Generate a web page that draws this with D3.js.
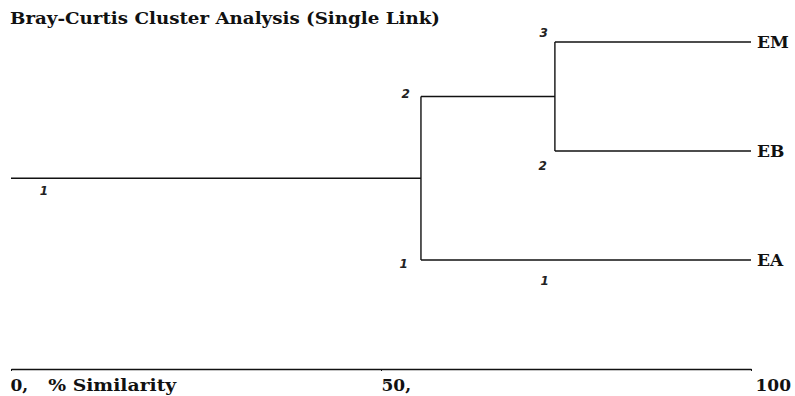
<!DOCTYPE html>
<html>
<head>
<meta charset="utf-8">
<script src="https://cdn.jsdelivr.net/npm/d3@7"></script>
<style>
  html, body { margin: 0; padding: 0; background: #fff; }
  svg { display: block; }
  text.serif, text.serif tspan { font-family: "DejaVu Serif", "Liberation Serif", serif; font-weight: bold; fill: #111; }
  text.count { font-family: "DejaVu Sans", sans-serif; font-weight: bold; font-style: italic; fill: #222; font-size: 12px; }
</style>
</head>
<body>
<svg id="chart" width="795" height="396"></svg>
<script>
// Sites (leaves), top to bottom
const leafNames = ["EM", "EB", "EA"];
// Similarity (%) at which clusters join: EM+EB first, then with EA
const mergeSimilarity = [73.5, 55.4];
// Counts written beside the branches
const branchCounts = ["1", "2", "1", "1", "3", "2"];
// Axis
const axisTicks = [0, 50, 100];
const axisTickLabels = ["0,   % Similarity", "50,", "100"];
const title = "Bray-Curtis Cluster Analysis (Single Link)";

const svg = d3.select("#chart");

const x = d3.scaleLinear().domain([0, 100]).range([11, 751]);
const y = d3.scalePoint().domain(leafNames).range([42, 260]);

// Build the tree from the merge order
const treeData = {
  sim: mergeSimilarity[1],
  children: [
    { sim: mergeSimilarity[0], children: [{ name: leafNames[0], sim: 100 }, { name: leafNames[1], sim: 100 }] },
    { name: leafNames[2], sim: 100 }
  ]
};
const root = d3.hierarchy(treeData);
root.eachAfter(n => {
  n.py = n.children ? d3.mean(n.children, c => c.py) : y(n.data.name);
  n.px = x(n.data.sim);
});

const g = svg.append("g")
  .attr("fill", "none")
  .attr("stroke", "#111")
  .attr("stroke-width", 1.4);

// Root stem from 0 % similarity
g.append("line")
  .attr("x1", x(0)).attr("x2", root.px)
  .attr("y1", root.py).attr("y2", root.py);

// Horizontal branches
root.descendants().filter(n => n.parent).forEach(n => {
  g.append("line")
    .attr("x1", n.parent.px).attr("x2", n.px)
    .attr("y1", n.py).attr("y2", n.py);
});

// Vertical connectors at each join
root.descendants().filter(n => n.children).forEach(n => {
  const ys = n.children.map(c => c.py);
  g.append("line")
    .attr("x1", n.px).attr("x2", n.px)
    .attr("y1", d3.min(ys)).attr("y2", d3.max(ys));
});

// Leaf labels
root.leaves().forEach(n => {
  svg.append("text")
    .attr("class", "serif")
    .attr("x", n.px + 6).attr("y", n.py)
    .attr("dy", "0.36em")
    .style("font-size", "17px")
    .text(n.data.name);
});

// Count annotations placed around the branches
const upper = root.children[0];
const eaNode = root.children[1];
const em = upper.children[0], eb = upper.children[1];
const countPlaces = [
  { ax: x(0) + 37, ay: root.py + 17 },
  { ax: root.px - 11, ay: upper.py + 1 },
  { ax: root.px - 13, ay: eaNode.py + 8 },
  { ax: root.px + 128, ay: eaNode.py + 25 },
  { ax: upper.px - 7, ay: em.py - 5 },
  { ax: upper.px - 8, ay: eb.py + 19 }
];
branchCounts.forEach((t, i) => {
  svg.append("text")
    .attr("class", "count")
    .attr("x", countPlaces[i].ax).attr("y", countPlaces[i].ay)
    .attr("text-anchor", "end")
    .text(t);
});

// Similarity axis
const axis = d3.axisBottom(x)
  .tickValues(axisTicks)
  .tickSize(2)
  .tickSizeOuter(0)
  .tickFormat(() => "");
const ax = svg.append("g").attr("transform", "translate(0,369)").call(axis);
ax.attr("font-family", null).attr("font-size", null);
ax.select(".domain").attr("stroke", "#111").attr("stroke-width", 1.6);
ax.selectAll(".tick line").attr("stroke", "#111");
ax.selectAll(".tick text")
  .attr("class", "serif")
  .attr("text-anchor", "start")
  .attr("fill", "#111")
  .attr("x", d => d === 0 ? -1 : d === 100 ? 4 : 0)
  .attr("dy", "0")
  .attr("y", 22)
  .style("font-size", "17px")
  .each(function(d, i) {
    // words separated by runs of spaces become tspans with a gap
    const parts = axisTickLabels[i].split(/\s{2,}/);
    const t = d3.select(this);
    parts.forEach((p, j) => {
      const ts = t.append("tspan").attr("dx", j === 0 ? 0 : 20).text(p);
      if (j > 0) ts.attr("textLength", 128).attr("lengthAdjust", "spacingAndGlyphs");
    });
  });

// Title
svg.append("text")
  .attr("class", "serif")
  .attr("x", 10).attr("y", 24)
  .style("font-size", "16px")
  .attr("textLength", 430)
  .attr("lengthAdjust", "spacingAndGlyphs")
  .text(title);
</script>
</body>
</html>
